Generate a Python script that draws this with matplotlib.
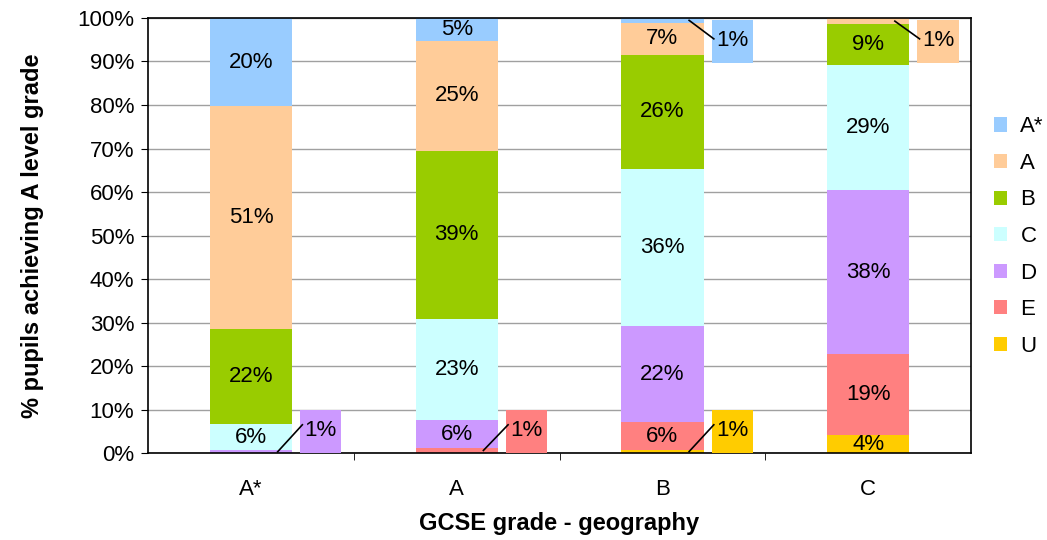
import matplotlib.pyplot as plt
from matplotlib.patches import Rectangle
import numpy as np

plt.rcParams['font.family'] = ['Liberation Sans', 'DejaVu Sans']

gcse = ['A*', 'A', 'B', 'C']
grades = ['U', 'E', 'D', 'C', 'B', 'A', 'A*']
colors = ['#FFCC00', '#FF8080', '#CC99FF', '#CCFFFF', '#99CC00', '#FFCC99', '#99CCFF']

U = [0.0, 0.0, 0.7, 4.1]
E = [0.0, 1.2, 6.4, 18.6]
D = [0.6, 6.3, 22.1, 37.75]
C = [6.0, 23.3, 36.1, 28.7]
B = [21.9, 38.7, 26.2, 9.4]
A = [51.2, 25.3, 7.4, 1.45]
Astar = [20.3, 5.2, 1.1, 0.0]
series = [U, E, D, C, B, A, Astar]

fig = plt.figure(figsize=(10.47, 5.4), dpi=100)
ax = fig.add_axes([0.1414, 0.161, 0.786, 0.8057])

x = np.arange(len(gcse))
bottom = np.zeros(len(gcse))
for vals, col, name in zip(series, colors, grades):
    vals = np.array(vals)
    ax.bar(x, vals, 0.4, bottom=bottom, color=col, label=name, zorder=2)
    for i in range(len(gcse)):
        v = vals[i]
        if v <= 0:
            continue
        lab = '%d%%' % round(v)
        if v >= 3:
            ax.text(x[i], bottom[i] + v / 2, lab, ha='center', va='center',
                    fontsize=16, zorder=4)
        else:
            mid = bottom[i] + v / 2
            # callout box beside the bar
            if mid > 50:
                by = 89.7
            else:
                by = 0
            bx = x[i] + 0.24
            ax.add_patch(Rectangle((bx, by), 0.2, 9.8, facecolor=col,
                                   edgecolor='none', zorder=3, clip_on=False))
            ax.text(bx + 0.1, by + 5.2, lab, ha='center', va='center',
                    fontsize=16, zorder=4)
            ty = by + 6.5 if mid < 50 else by + 5.5
            ax.plot([x[i] + 0.13, bx + 0.01], [mid, ty], color='black', lw=1.2,
                    zorder=4, clip_on=False)
    bottom += vals

ax.set_xlim(-0.5, 3.5)
ax.set_ylim(0, 100)
ax.set_yticks(np.arange(0, 101, 10))
ax.set_yticklabels(['%d%%' % t for t in range(0, 101, 10)], fontsize=16)
ax.yaxis.grid(True, color='#A0A0A0', lw=1, zorder=0)
ax.set_xticks(x)
ax.set_xticklabels(gcse, fontsize=16)
ax.tick_params(axis='x', length=0, pad=19)
ax.set_xticks([0.5, 1.5, 2.5], minor=True)
ax.tick_params(axis='x', which='minor', length=5, direction='out')
ax.tick_params(axis='y', length=5, direction='out', pad=5)
for s in ax.spines.values():
    s.set_color('black')
    s.set_linewidth(1.2)

ax.set_xlabel('GCSE grade - geography', fontsize=17, fontweight='bold', labelpad=8)
ax.set_ylabel('% pupils achieving A level grade', fontsize=17, fontweight='bold', labelpad=24)

h, l = ax.get_legend_handles_labels()
fig.legend(h[::-1], l[::-1], loc='center left', bbox_to_anchor=(0.93, 0.562),
           frameon=False, fontsize=16, handlelength=0.6, handleheight=0.6,
           labelspacing=0.7, handletextpad=0.6)

plt.savefig('out.png', dpi=100)
